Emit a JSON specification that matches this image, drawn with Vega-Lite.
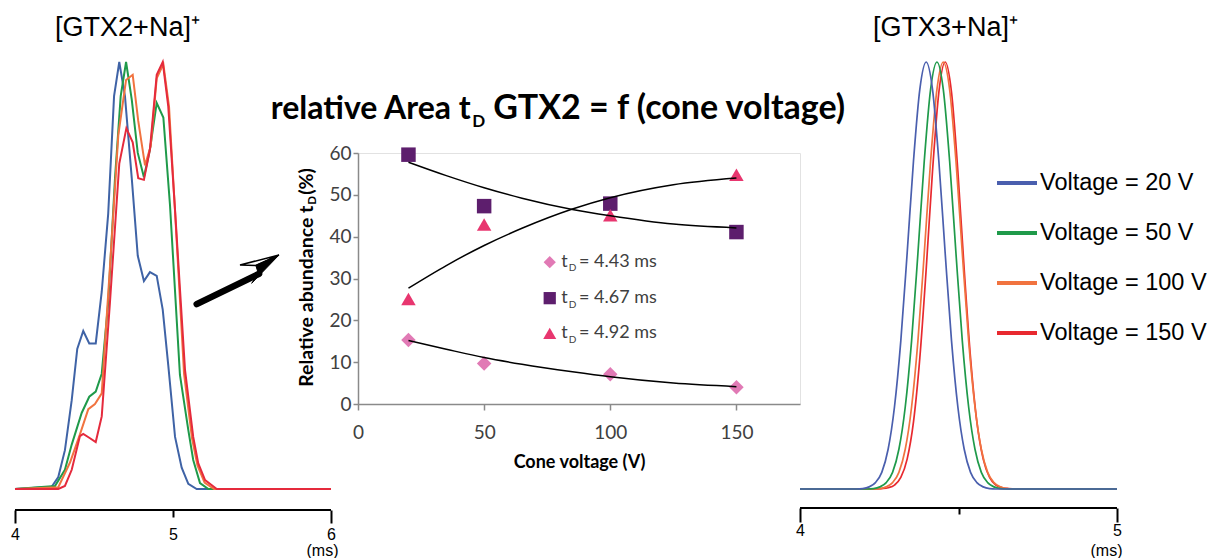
{
  "$schema": "https://vega.github.io/schema/vega-lite/v6.json",
  "background": "white",
  "padding": {"left": 10, "top": 14, "right": 0, "bottom": 0},
  "bounds": "flush",
  "center": true,
  "spacing": 0,
  "config": {
    "view": {"stroke": null},
    "axis": {"grid": false},
    "font": "Liberation Sans"
  },
  "datasets": {
    "gtx2": [
      {"v":20,"t":4.000,"i":0},{"v":20,"t":4.232,"i":0.5},{"v":20,"t":4.274,"i":2.8},{"v":20,"t":4.316,"i":9.1},{"v":20,"t":4.359,"i":20.8},{"v":20,"t":4.394,"i":32.8},{"v":20,"t":4.432,"i":37.0},{"v":20,"t":4.470,"i":34.1},{"v":20,"t":4.511,"i":34.1},{"v":20,"t":4.549,"i":46.2},{"v":20,"t":4.590,"i":64.5},{"v":20,"t":4.627,"i":92.0},{"v":20,"t":4.660,"i":100},{"v":20,"t":4.696,"i":92.0},{"v":20,"t":4.739,"i":72.8},{"v":20,"t":4.777,"i":54.6},{"v":20,"t":4.816,"i":48.7},{"v":20,"t":4.854,"i":50.8},{"v":20,"t":4.897,"i":49.9},{"v":20,"t":4.935,"i":42.0},{"v":20,"t":4.970,"i":29.0},{"v":20,"t":5.013,"i":12.2},{"v":20,"t":5.055,"i":5.0},{"v":20,"t":5.097,"i":1.2},{"v":20,"t":5.150,"i":0},{"v":20,"t":6.000,"i":0},
      {"v":50,"t":4.000,"i":0},{"v":50,"t":4.253,"i":0.7},{"v":50,"t":4.316,"i":4.5},{"v":50,"t":4.359,"i":10.4},{"v":50,"t":4.422,"i":17.8},{"v":50,"t":4.470,"i":21.6},{"v":50,"t":4.511,"i":22.8},{"v":50,"t":4.549,"i":27.0},{"v":50,"t":4.590,"i":43.7},{"v":50,"t":4.633,"i":72.8},{"v":50,"t":4.669,"i":92.0},{"v":50,"t":4.703,"i":100},{"v":50,"t":4.739,"i":91.2},{"v":50,"t":4.777,"i":78.7},{"v":50,"t":4.816,"i":73.0},{"v":50,"t":4.854,"i":79.5},{"v":50,"t":4.897,"i":90.4},{"v":50,"t":4.939,"i":87.0},{"v":50,"t":4.981,"i":66.5},{"v":50,"t":5.044,"i":26.7},{"v":50,"t":5.097,"i":13.8},{"v":50,"t":5.128,"i":6.8},{"v":50,"t":5.171,"i":1.4},{"v":50,"t":5.224,"i":0},{"v":50,"t":6.000,"i":0},
      {"v":100,"t":4.000,"i":0},{"v":100,"t":4.274,"i":0.4},{"v":100,"t":4.348,"i":6.2},{"v":100,"t":4.411,"i":12.8},{"v":100,"t":4.464,"i":18.7},{"v":100,"t":4.506,"i":19.9},{"v":100,"t":4.549,"i":22.4},{"v":100,"t":4.601,"i":52.0},{"v":100,"t":4.654,"i":82.9},{"v":100,"t":4.703,"i":95.8},{"v":100,"t":4.745,"i":97.0},{"v":100,"t":4.780,"i":86.2},{"v":100,"t":4.823,"i":75.8},{"v":100,"t":4.859,"i":80.3},{"v":100,"t":4.897,"i":96.2},{"v":100,"t":4.939,"i":99.5},{"v":100,"t":4.975,"i":89.5},{"v":100,"t":5.013,"i":65.0},{"v":100,"t":5.070,"i":27.0},{"v":100,"t":5.120,"i":12.0},{"v":100,"t":5.155,"i":5.5},{"v":100,"t":5.200,"i":1.5},{"v":100,"t":5.260,"i":0},{"v":100,"t":6.000,"i":0},
      {"v":150,"t":4.000,"i":0},{"v":150,"t":4.274,"i":0},{"v":150,"t":4.316,"i":0.7},{"v":150,"t":4.359,"i":4.5},{"v":150,"t":4.411,"i":12.4},{"v":150,"t":4.432,"i":12.9},{"v":150,"t":4.470,"i":12.0},{"v":150,"t":4.511,"i":11.0},{"v":150,"t":4.549,"i":17.0},{"v":150,"t":4.601,"i":43.7},{"v":150,"t":4.660,"i":76.2},{"v":150,"t":4.705,"i":84.5},{"v":150,"t":4.745,"i":81.2},{"v":150,"t":4.780,"i":72.8},{"v":150,"t":4.816,"i":72.4},{"v":150,"t":4.854,"i":79.5},{"v":150,"t":4.897,"i":97.0},{"v":150,"t":4.935,"i":100},{"v":150,"t":4.970,"i":89.6},{"v":150,"t":5.013,"i":65.3},{"v":150,"t":5.076,"i":27.9},{"v":150,"t":5.128,"i":12.2},{"v":150,"t":5.160,"i":6.0},{"v":150,"t":5.203,"i":2.1},{"v":150,"t":5.277,"i":0},{"v":150,"t":6.000,"i":0}
    ],
    "gtx3": [
      {"v":150,"t":4.000,"i":0},{"v":150,"t":4.238,"i":0},{"v":150,"t":4.258,"i":0.1},{"v":150,"t":4.278,"i":0.3},{"v":150,"t":4.298,"i":0.9},{"v":150,"t":4.318,"i":2.7},{"v":150,"t":4.338,"i":7.0},{"v":150,"t":4.358,"i":15.7},{"v":150,"t":4.378,"i":30.7},{"v":150,"t":4.398,"i":51.4},{"v":150,"t":4.418,"i":74.4},{"v":150,"t":4.438,"i":92.9},{"v":150,"t":4.458,"i":100},{"v":150,"t":4.478,"i":92.9},{"v":150,"t":4.498,"i":74.4},{"v":150,"t":4.518,"i":51.4},{"v":150,"t":4.538,"i":30.7},{"v":150,"t":4.558,"i":15.7},{"v":150,"t":4.578,"i":7.0},{"v":150,"t":4.598,"i":2.7},{"v":150,"t":4.618,"i":0.9},{"v":150,"t":4.638,"i":0.3},{"v":150,"t":4.658,"i":0.1},{"v":150,"t":4.678,"i":0},{"v":150,"t":5.000,"i":0},
      {"v":100,"t":4.000,"i":0},{"v":100,"t":4.232,"i":0},{"v":100,"t":4.252,"i":0.1},{"v":100,"t":4.272,"i":0.5},{"v":100,"t":4.292,"i":1.5},{"v":100,"t":4.312,"i":3.9},{"v":100,"t":4.332,"i":9.3},{"v":100,"t":4.352,"i":19.2},{"v":100,"t":4.372,"i":34.7},{"v":100,"t":4.392,"i":55.2},{"v":100,"t":4.412,"i":76.8},{"v":100,"t":4.432,"i":93.6},{"v":100,"t":4.452,"i":100},{"v":100,"t":4.472,"i":93.6},{"v":100,"t":4.492,"i":76.8},{"v":100,"t":4.512,"i":55.2},{"v":100,"t":4.532,"i":34.7},{"v":100,"t":4.552,"i":19.2},{"v":100,"t":4.572,"i":9.3},{"v":100,"t":4.592,"i":3.9},{"v":100,"t":4.612,"i":1.5},{"v":100,"t":4.632,"i":0.5},{"v":100,"t":4.652,"i":0.1},{"v":100,"t":4.672,"i":0},{"v":100,"t":5.000,"i":0},
      {"v":50,"t":4.000,"i":0},{"v":50,"t":4.212,"i":0},{"v":50,"t":4.232,"i":0.1},{"v":50,"t":4.252,"i":0.5},{"v":50,"t":4.272,"i":1.5},{"v":50,"t":4.292,"i":3.9},{"v":50,"t":4.312,"i":9.3},{"v":50,"t":4.332,"i":19.2},{"v":50,"t":4.352,"i":34.7},{"v":50,"t":4.372,"i":55.2},{"v":50,"t":4.392,"i":76.8},{"v":50,"t":4.412,"i":93.6},{"v":50,"t":4.432,"i":100},{"v":50,"t":4.452,"i":93.6},{"v":50,"t":4.472,"i":76.8},{"v":50,"t":4.492,"i":55.2},{"v":50,"t":4.512,"i":34.7},{"v":50,"t":4.532,"i":19.2},{"v":50,"t":4.552,"i":9.3},{"v":50,"t":4.572,"i":3.9},{"v":50,"t":4.592,"i":1.5},{"v":50,"t":4.612,"i":0.5},{"v":50,"t":4.632,"i":0.1},{"v":50,"t":4.652,"i":0},{"v":50,"t":5.000,"i":0},
      {"v":20,"t":4.000,"i":0},{"v":20,"t":4.178,"i":0},{"v":20,"t":4.198,"i":0.1},{"v":20,"t":4.218,"i":0.5},{"v":20,"t":4.238,"i":1.5},{"v":20,"t":4.258,"i":3.9},{"v":20,"t":4.278,"i":9.3},{"v":20,"t":4.298,"i":19.2},{"v":20,"t":4.318,"i":34.7},{"v":20,"t":4.338,"i":55.2},{"v":20,"t":4.358,"i":76.8},{"v":20,"t":4.378,"i":93.6},{"v":20,"t":4.398,"i":100},{"v":20,"t":4.418,"i":93.6},{"v":20,"t":4.438,"i":76.8},{"v":20,"t":4.458,"i":55.2},{"v":20,"t":4.478,"i":34.7},{"v":20,"t":4.498,"i":19.2},{"v":20,"t":4.518,"i":9.3},{"v":20,"t":4.538,"i":3.9},{"v":20,"t":4.558,"i":1.5},{"v":20,"t":4.578,"i":0.5},{"v":20,"t":4.598,"i":0.1},{"v":20,"t":4.618,"i":0},{"v":20,"t":5.000,"i":0}
    ],
    "abund": [
      {"V":20,"a":15.3,"s":"4.43"},{"V":50,"a":9.7,"s":"4.43"},{"V":100,"a":7.1,"s":"4.43"},{"V":150,"a":4.0,"s":"4.43"},
      {"V":20,"a":59.6,"s":"4.67"},{"V":50,"a":47.3,"s":"4.67"},{"V":100,"a":47.9,"s":"4.67"},{"V":150,"a":41.1,"s":"4.67"},
      {"V":20,"a":25.1,"s":"4.92"},{"V":50,"a":42.9,"s":"4.92"},{"V":100,"a":45.1,"s":"4.92"},{"V":150,"a":54.8,"s":"4.92"}
    ],
    "trend": [
      {"V":20,"a":15.2,"s":"4.43"},{"V":35,"a":13.1,"s":"4.43"},{"V":50,"a":11.1,"s":"4.43"},{"V":65,"a":9.5,"s":"4.43"},{"V":85,"a":7.7,"s":"4.43"},{"V":100,"a":6.5,"s":"4.43"},{"V":125,"a":5.0,"s":"4.43"},{"V":150,"a":4.15,"s":"4.43"},
      {"V":20,"a":57.8,"s":"4.67"},{"V":35,"a":54.6,"s":"4.67"},{"V":50,"a":51.7,"s":"4.67"},{"V":65,"a":49.2,"s":"4.67"},{"V":85,"a":46.5,"s":"4.67"},{"V":100,"a":45.0,"s":"4.67"},{"V":125,"a":43.0,"s":"4.67"},{"V":150,"a":42.1,"s":"4.67"},
      {"V":20,"a":27.7,"s":"4.92"},{"V":35,"a":33.1,"s":"4.92"},{"V":50,"a":37.9,"s":"4.92"},{"V":65,"a":42.0,"s":"4.92"},{"V":85,"a":46.6,"s":"4.92"},{"V":100,"a":49.3,"s":"4.92"},{"V":125,"a":52.4,"s":"4.92"},{"V":150,"a":54.0,"s":"4.92"}
    ]
  },
  "resolve": {"scale": {"color": "independent", "shape": "independent"}, "legend": {"color": "independent", "shape": "independent"}},
  "hconcat": [
    {
      "width": 343,
      "height": 463,
      "title": {"text": "[GTX2+Na]⁺", "font": "Liberation Sans", "fontSize": 27, "fontWeight": "normal", "color": "black", "anchor": "middle", "dx": -59, "baseline": "alphabetic", "offset": -16},
      "resolve": {"axis": {"x": "independent"}},
      "layer": [
        {
          "data": {"name": "gtx2"},
          "mark": {"type": "line", "strokeWidth": 2, "interpolate": "linear"},
          "encoding": {
            "x": {"field": "t", "type": "quantitative", "scale": {"domain": [4, 6.171], "nice": false, "zero": false},
              "axis": {"orient": "bottom", "values": [4, 6], "format": "d", "domain": false, "tickSize": 13, "tickWidth": 2, "tickColor": "black", "labelFont": "Liberation Sans", "labelFontSize": 16, "labelColor": "black", "labelPadding": 3, "labelFlush": false, "labelOverlap": false,
                "title": "(ms)", "titleFont": "Liberation Sans", "titleFontSize": 16, "titleFontWeight": "normal", "titleColor": "black", "titleX": 307, "titleY": 32, "titleAlign": "center", "titleBaseline": "top"}},
            "y": {"field": "i", "type": "quantitative", "scale": {"domain": [-4.92, 103.51], "nice": false, "zero": false}, "axis": null},
            "color": {"field": "v", "type": "nominal", "scale": {"domain": [20, 50, 100, 150], "range": ["#3f63a6", "#1f9a4a", "#f1733f", "#e52a3c"]}, "legend": null}
          }
        },
        {
          "data": {"values": [{}]},
          "mark": {"type": "rule", "strokeWidth": 2, "color": "black"},
          "encoding": {
            "x": {"datum": 4, "axis": {"orient": "bottom", "values": [5], "format": "d", "domain": false, "tickSize": 7, "tickWidth": 2, "tickColor": "black", "labelFont": "Liberation Sans", "labelFontSize": 16, "labelColor": "black", "labelPadding": 9, "title": null}},
            "x2": {"datum": 6},
            "y": {"datum": -4.92}
          }
        },
        {
          "data": {"values": [{}]},
          "mark": {"type": "rule", "strokeWidth": 6.5, "strokeCap": "round", "color": "black"},
          "encoding": {
            "x": {"datum": 5.150, "axis": null},
            "y": {"datum": 43.3},
            "x2": {"datum": 5.545},
            "y2": {"datum": 50.4}
          }
        },
        {
          "data": {"values": [{}]},
          "mark": {"type": "point", "shape": "M0,0 L-0.975,0.25 L-0.58,0.26 Z", "size": 6400, "filled": false, "fill": "white", "stroke": "black", "strokeWidth": 1.5, "opacity": 1},
          "encoding": {"x": {"datum": 5.671, "axis": null}, "y": {"datum": 54.8}}
        },
        {
          "data": {"values": [{}]},
          "mark": {"type": "point", "shape": "M0,0 L-0.58,0.26 L-0.518,0.458 L-0.683,0.708 Z", "size": 6400, "filled": true, "color": "black", "stroke": "black", "strokeWidth": 1, "opacity": 1},
          "encoding": {"x": {"datum": 5.671, "axis": null}, "y": {"datum": 54.8}}
        }
      ]
    },
    {
      "width": 442,
      "height": 251,
      "view": {"stroke": "#e2e2e2", "strokeWidth": 1},
      "layer": [
        {
          "data": {"name": "abund"},
          "mark": {"type": "point", "filled": true, "size": 210, "opacity": 1, "strokeWidth": 0},
          "encoding": {
            "x": {"field": "V", "type": "quantitative", "scale": {"domain": [0, 175.2], "nice": false, "zero": false},
              "axis": {"values": [0, 50, 100, 150], "domainColor": "#8a8a8a", "domainWidth": 1.5, "tickColor": "#8a8a8a", "tickWidth": 1.5, "tickSize": 6, "labelFont": "Lato", "labelFontSize": 19, "labelColor": "#404040", "labelPadding": 13, "labelFlush": false,
                "title": "Cone voltage (V)", "titleFont": "Lato", "titleFontSize": 18, "titleFontWeight": "bold", "titleColor": "black", "titlePadding": 11}},
            "y": {"field": "a", "type": "quantitative", "scale": {"domain": [0, 60], "nice": false, "zero": false},
              "axis": {"values": [0, 10, 20, 30, 40, 50, 60], "domainColor": "#8a8a8a", "domainWidth": 1.5, "tickColor": "#8a8a8a", "tickWidth": 1.5, "tickSize": 5, "labelFont": "Lato", "labelFontSize": 19, "labelColor": "#404040", "labelPadding": 2, "labelFlush": false, "title": null}},
            "color": {"field": "s", "type": "nominal", "scale": {"domain": ["4.43", "4.67", "4.92"], "range": ["#e17ab5", "#5d1e6d", "#e8366f"]}, "legend": null},
            "shape": {"field": "s", "type": "nominal", "scale": {"domain": ["4.43", "4.67", "4.92"], "range": ["diamond", "square", "triangle-up"]}, "legend": null}
          }
        },
        {
          "data": {"name": "trend"},
          "mark": {"type": "line", "color": "black", "strokeWidth": 1.5, "interpolate": "monotone"},
          "encoding": {
            "x": {"field": "V", "type": "quantitative"},
            "y": {"field": "a", "type": "quantitative"},
            "detail": {"field": "s", "type": "nominal"}
          }
        },
        {"data": {"values": [{}]}, "mark": {"type": "text", "text": "relative Area t", "align": "right", "baseline": "alphabetic", "font": "Lato", "fontSize": 32, "fontWeight": "bold", "color": "black"}, "encoding": {"x": {"datum": 44.7}, "y": {"datum": 68.2}}},
        {"data": {"values": [{}]}, "mark": {"type": "text", "text": "D", "align": "left", "baseline": "alphabetic", "font": "Lato", "fontSize": 17, "fontWeight": "bold", "color": "black"}, "encoding": {"x": {"datum": 45.3}, "y": {"datum": 66.2}}},
        {"data": {"values": [{}]}, "mark": {"type": "text", "text": "GTX2 = f (cone voltage)", "align": "left", "baseline": "alphabetic", "font": "Lato", "fontSize": 34, "fontWeight": "bold", "color": "black"}, "encoding": {"x": {"datum": 53.6}, "y": {"datum": 68.2}}},
        {"data": {"values": [{}]}, "mark": {"type": "text", "text": "Relative abundance t", "angle": 270, "align": "right", "baseline": "middle", "font": "Lato", "fontSize": 19.5, "fontWeight": "bold", "color": "black"}, "encoding": {"x": {"datum": -20.3}, "y": {"datum": 47.4}}},
        {"data": {"values": [{}]}, "mark": {"type": "text", "text": "D", "angle": 270, "align": "left", "baseline": "middle", "font": "Lato", "fontSize": 11.5, "fontWeight": "bold", "color": "black"}, "encoding": {"x": {"datum": -17.8}, "y": {"datum": 47.6}}},
        {"data": {"values": [{}]}, "mark": {"type": "text", "text": "(%)", "angle": 270, "align": "left", "baseline": "middle", "font": "Lato", "fontSize": 19.5, "fontWeight": "bold", "color": "black"}, "encoding": {"x": {"datum": -20.3}, "y": {"datum": 50.0}}},
        {"data": {"values": [{}]}, "mark": {"type": "point", "shape": "diamond", "filled": true, "size": 150, "color": "#e17ab5", "opacity": 1}, "encoding": {"x": {"datum": 76.0}, "y": {"datum": 33.9}}},
        {"data": {"values": [{}]}, "mark": {"type": "point", "shape": "square", "filled": true, "size": 150, "color": "#5d1e6d", "opacity": 1}, "encoding": {"x": {"datum": 76.0}, "y": {"datum": 25.3}}},
        {"data": {"values": [{}]}, "mark": {"type": "point", "shape": "triangle-up", "filled": true, "size": 170, "color": "#e8366f", "opacity": 1}, "encoding": {"x": {"datum": 76.0}, "y": {"datum": 16.9}}},
        {"data": {"values": [{}]}, "mark": {"type": "text", "text": "t", "align": "left", "baseline": "alphabetic", "font": "Lato", "fontSize": 18, "color": "#404040"}, "encoding": {"x": {"datum": 80.6}, "y": {"datum": 32.7}}},
        {"data": {"values": [{}]}, "mark": {"type": "text", "text": "D", "align": "left", "baseline": "alphabetic", "font": "Lato", "fontSize": 10, "color": "#404040"}, "encoding": {"x": {"datum": 83.5}, "y": {"datum": 31.7}}},
        {"data": {"values": [{}]}, "mark": {"type": "text", "text": "= 4.43 ms", "align": "left", "baseline": "alphabetic", "font": "Lato", "fontSize": 18, "color": "#404040"}, "encoding": {"x": {"datum": 87.6}, "y": {"datum": 32.7}}},
        {"data": {"values": [{}]}, "mark": {"type": "text", "text": "t", "align": "left", "baseline": "alphabetic", "font": "Lato", "fontSize": 18, "color": "#404040"}, "encoding": {"x": {"datum": 80.6}, "y": {"datum": 24.05}}},
        {"data": {"values": [{}]}, "mark": {"type": "text", "text": "D", "align": "left", "baseline": "alphabetic", "font": "Lato", "fontSize": 10, "color": "#404040"}, "encoding": {"x": {"datum": 83.5}, "y": {"datum": 23.05}}},
        {"data": {"values": [{}]}, "mark": {"type": "text", "text": "= 4.67 ms", "align": "left", "baseline": "alphabetic", "font": "Lato", "fontSize": 18, "color": "#404040"}, "encoding": {"x": {"datum": 87.6}, "y": {"datum": 24.05}}},
        {"data": {"values": [{}]}, "mark": {"type": "text", "text": "t", "align": "left", "baseline": "alphabetic", "font": "Lato", "fontSize": 18, "color": "#404040"}, "encoding": {"x": {"datum": 80.6}, "y": {"datum": 15.7}}},
        {"data": {"values": [{}]}, "mark": {"type": "text", "text": "D", "align": "left", "baseline": "alphabetic", "font": "Lato", "fontSize": 10, "color": "#404040"}, "encoding": {"x": {"datum": 83.5}, "y": {"datum": 14.7}}},
        {"data": {"values": [{}]}, "mark": {"type": "text", "text": "= 4.92 ms", "align": "left", "baseline": "alphabetic", "font": "Lato", "fontSize": 18, "color": "#404040"}, "encoding": {"x": {"datum": 87.6}, "y": {"datum": 15.7}}}
      ]
    },
    {
      "width": 317,
      "height": 459,
      "title": {"text": "[GTX3+Na]⁺", "font": "Liberation Sans", "fontSize": 27, "fontWeight": "normal", "color": "black", "anchor": "middle", "dx": -13, "baseline": "alphabetic", "offset": -14},
      "resolve": {"axis": {"x": "independent"}},
      "layer": [
        {
          "data": {"name": "gtx3"},
          "mark": {"type": "line", "strokeWidth": 1.7, "interpolate": "monotone"},
          "encoding": {
            "x": {"field": "t", "type": "quantitative", "scale": {"domain": [4, 5], "nice": false, "zero": false},
              "axis": {"orient": "bottom", "values": [4, 5], "format": "d", "domain": false, "tickSize": 14, "tickWidth": 2, "tickColor": "black", "labelFont": "Liberation Sans", "labelFontSize": 16, "labelColor": "black", "labelPadding": 0, "labelFlush": false, "labelOverlap": false,
                "title": "(ms)", "titleFont": "Liberation Sans", "titleFontSize": 16, "titleFontWeight": "normal", "titleColor": "black", "titleX": 306, "titleY": 34, "titleAlign": "center", "titleBaseline": "top"}},
            "y": {"field": "i", "type": "quantitative", "scale": {"domain": [-4.45, 103.04], "nice": false, "zero": false}, "axis": null},
            "color": {"field": "v", "type": "nominal", "scale": {"domain": [20, 50, 100, 150], "range": ["#4a5fae", "#1f9a4a", "#f1733f", "#e8292f"]},
              "legend": {"orient": "none", "legendX": 195, "legendY": 112, "title": null, "padding": 0, "symbolType": "stroke", "symbolSize": 1600, "symbolStrokeWidth": 4, "labelFont": "Liberation Sans", "labelFontSize": 23.5, "labelColor": "black", "labelOffset": 1, "rowPadding": 16, "labelLimit": 300, "labelExpr": "'Voltage = ' + datum.label + ' V'"}}
          }
        },
        {
          "data": {"values": [{}]},
          "mark": {"type": "rule", "strokeWidth": 2, "color": "black"},
          "encoding": {
            "x": {"datum": 4, "axis": {"orient": "bottom", "values": [4.5], "domain": false, "labels": false, "tickSize": 6, "tickWidth": 2, "tickColor": "black", "title": null}},
            "x2": {"datum": 5},
            "y": {"datum": -4.45}
          }
        }
      ]
    }
  ]
}
